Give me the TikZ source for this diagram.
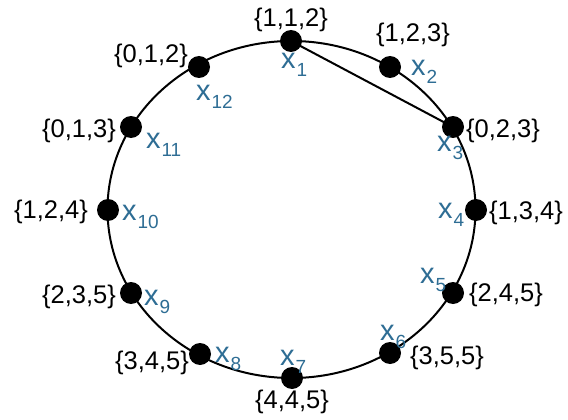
\documentclass[tikz,border=0pt]{standalone}
\usepackage{fontspec}
\setmainfont{Liberation Sans}
\usetikzlibrary{positioning}
\definecolor{xblue}{RGB}{46,109,148}
\newcommand{\xsub}[1]{{\fontsize{29}{32}\selectfont x\hspace{1pt}\raisebox{-8pt}{\fontsize{19}{21}\selectfont #1}}}
\tikzset{
  vdot/.style={circle, fill=black, minimum size=22pt, inner sep=0pt},
  setlbl/.style={inner sep=0pt, anchor=base, font=\fontsize{25.5}{28}\selectfont},
  xlbl/.style={inner sep=0pt, anchor=base west, text=xblue}
}

\begin{document}
\begin{tikzpicture}[x=1pt, y=-1pt, line width=2pt]
    \useasboundingbox (0,0) rectangle (568,420);
    \draw (291.5,209.5) ellipse [x radius=184, y radius=168.5];
    % vertices
    \node[vdot] (v1) at (291,41) {};
    \node[vdot] (v2) at (390,67) {};
    \node[vdot] (v3) at (453,127) {};
    \node[vdot] (v4) at (476,210) {};
    \node[vdot] (v5) at (453,293) {};
    \node[vdot] (v6) at (390,353) {};
    \node[vdot] (v7) at (292,378) {};
    \node[vdot] (v8) at (200,354) {};
    \node[vdot] (v9) at (131,293) {};
    \node[vdot] (v10) at (108,210) {};
    \node[vdot] (v11) at (131,127) {};
    \node[vdot] (v12) at (199,67) {};
    \draw (v1.center) -- (v3.center);
    % sets
    \node[setlbl] (s1) at (291,27) {\{1,1,2\}};
    \node[setlbl] (s2) at (413,42) {\{1,2,3\}};
    \node[setlbl] (s3) at (503,137) {\{0,2,3\}};
    \node[setlbl] (s4) at (526,219) {\{1,3,4\}};
    \node[setlbl] (s5) at (506,301) {\{2,4,5\}};
    \node[setlbl] (s6) at (447,364) {\{3,5,5\}};
    \node[setlbl] (s7) at (292,408) {\{4,4,5\}};
    \node[setlbl] (s8) at (152,369) {\{3,4,5\}};
    \node[setlbl] (s9) at (79,303) {\{2,3,5\}};
    \node[setlbl] (s10) at (51,218) {\{1,2,4\}};
    \node[setlbl] (s11) at (79,137) {\{0,1,3\}};
    \node[setlbl] (s12) at (151,63) {\{0,1,2\}};
    % names
    \node[xlbl] (n1) at (280,69) {\xsub{1}};
    \node[xlbl] (n2) at (410,76) {\xsub{2}};
    \node[xlbl] (n3) at (436,151) {\xsub{3}};
    \node[xlbl] (n4) at (437,218) {\xsub{4}};
    \node[xlbl] (n5) at (419,283) {\xsub{5}};
    \node[xlbl] (n6) at (379,340) {\xsub{6}};
    \node[xlbl] (n7) at (279,365) {\xsub{7}};
    \node[xlbl] (n8) at (214,362) {\xsub{8}};
    \node[xlbl] (n9) at (143,305) {\xsub{9}};
    \node[xlbl] (n10) at (121,220) {\xsub{10}};
    \node[xlbl] (n11) at (145,148) {\xsub{11}};
    \node[xlbl] (n12) at (195,101) {\xsub{12}};
\end{tikzpicture}
\end{document}
